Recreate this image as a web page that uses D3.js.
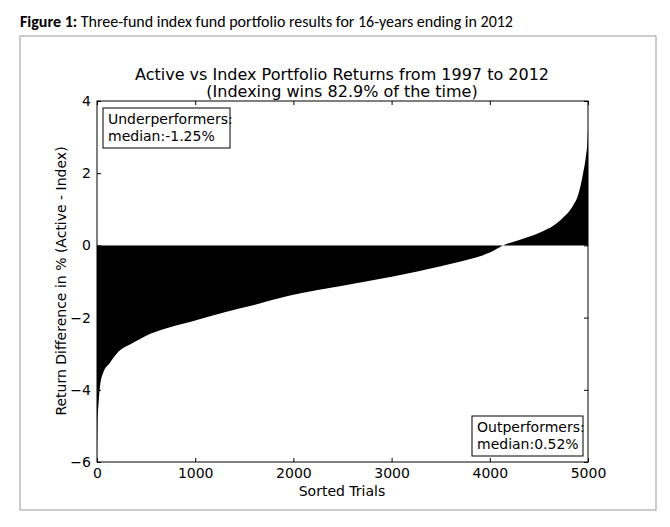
<!DOCTYPE html>
<html><head><meta charset="utf-8">
<script src="https://cdn.jsdelivr.net/npm/d3@7"></script>
<style>body{margin:0;background:#fff;font-family:"DejaVu Sans",sans-serif}</style>
</head><body><div id="chart"></div>
<script>
// sorted trials vs return difference
var trials = [0, 5, 15, 31, 60, 132, 200, 367, 500, 700, 947, 1300, 1600, 1965, 2500, 3000, 3500, 3800, 4000, 4134, 4300, 4511, 4650, 4750, 4847, 4900, 4950, 4980, 4995, 5000];
var diffs  = [-5.9, -4.9, -4.4, -3.9, -3.55, -3.25, -3.0, -2.7, -2.5, -2.3, -2.12, -1.85, -1.65, -1.39, -1.12, -0.87, -0.58, -0.38, -0.2, 0, 0.15, 0.36, 0.55, 0.78, 1.1, 1.4, 2.0, 2.5, 2.9, 3.25];
var xTicks = [0, 1000, 2000, 3000, 4000, 5000];
var yTicks = [-6, -4, -2, 0, 2, 4];

var svg = d3.select("#chart").append("svg").attr("width", 670).attr("height", 527);

svg.append("text").attr("x", 20).attr("y", 27).style("font-family", "Calibri, Carlito, 'Liberation Sans', sans-serif").style("font-size", "16px")
  .html("<tspan font-weight='bold'>Figure 1:</tspan> Three-fund index fund portfolio results for 16-years ending in 2012");
svg.append("rect").attr("x", 20).attr("y", 36).attr("width", 636).attr("height", 474)
  .attr("fill", "none").attr("stroke", "#999");

var x = d3.scaleLinear().domain([0, 5000]).range([97, 588]);
var y = d3.scaleLinear().domain([-6, 4]).range([462, 101]);

var area = d3.area().curve(d3.curveMonotoneX).x((d, i) => x(trials[i])).y0(y(0)).y1(d => y(d));
svg.append("path").datum(diffs).attr("d", area).attr("fill", "#000");

svg.append("g").attr("transform", "translate(0,462)")
  .call(d3.axisBottom(x).tickValues(xTicks).tickSize(-4).tickPadding(6).tickFormat(d3.format("d")))
  .call(g => g.select(".domain").remove());
svg.append("g").attr("transform", "translate(0,101)")
  .call(d3.axisTop(x).tickValues(xTicks).tickSize(-4).tickFormat(""))
  .call(g => g.select(".domain").remove());
svg.append("g").attr("transform", "translate(97,0)")
  .call(d3.axisLeft(y).tickValues(yTicks).tickSize(-4).tickPadding(6).tickFormat(d => d < 0 ? "\u2212" + (-d) : d))
  .call(g => g.select(".domain").remove());
svg.append("g").attr("transform", "translate(588,0)")
  .call(d3.axisRight(y).tickValues(yTicks).tickSize(-4).tickFormat(""))
  .call(g => g.select(".domain").remove());
svg.selectAll(".tick text").style("font-size", "14px").style("font-family", "DejaVu Sans");
svg.append("rect").attr("x", 97).attr("y", 101).attr("width", 491).attr("height", 361)
  .attr("fill", "none").attr("stroke", "#000");

svg.append("text").attr("x", 342).attr("y", 80).attr("text-anchor", "middle").style("font-size", "16px")
  .text("Active vs Index Portfolio Returns from 1997 to 2012");
svg.append("text").attr("x", 342).attr("y", 97).attr("text-anchor", "middle").style("font-size", "16px")
  .text("(Indexing wins 82.9% of the time)");
svg.append("text").attr("x", 342).attr("y", 496).attr("text-anchor", "middle").style("font-size", "14px").text("Sorted Trials");
svg.append("text").attr("transform", "translate(66,281) rotate(-90)").attr("text-anchor", "middle").style("font-size", "14px")
  .text("Return Difference in % (Active - Index)");

function box(bx, by, w, lines) {
  svg.append("rect").attr("x", bx).attr("y", by).attr("width", w).attr("height", 40)
    .attr("fill", "#fff").attr("stroke", "#000");
  lines.forEach((t, i) => svg.append("text").attr("x", bx + 5).attr("y", by + 16 + i * 17)
    .style("font-size", "14px").text(t));
}
box(103, 108, 127, ["Underperformers:", "median:-1.25%"]);
box(472, 416, 111, ["Outperformers:", "median:0.52%"]);
</script></body></html>
